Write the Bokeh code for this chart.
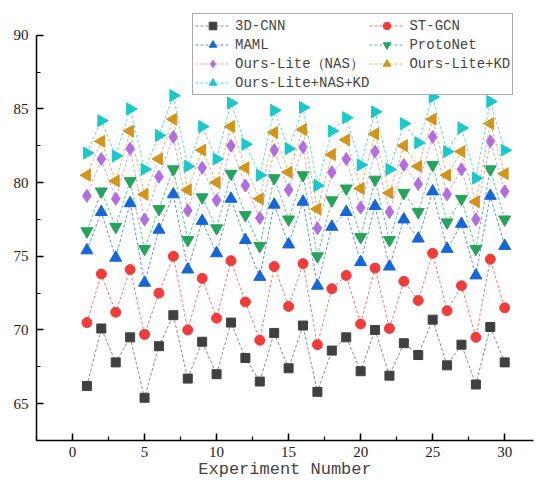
import math
from bokeh.plotting import figure
from bokeh.models import Range1d, SingleIntervalTicker, Legend, LegendItem
from bokeh.embed import file_html
from bokeh.resources import INLINE

experiments = list(range(1, 31))

cnn3d = [66.2, 70.1, 67.8, 69.5, 65.4, 68.9, 71.0, 66.7, 69.2, 67.0, 70.5, 68.1, 66.5, 69.8, 67.4,
         70.3, 65.8, 68.6, 69.5, 67.2, 70.0, 66.9, 69.1, 68.3, 70.7, 67.6, 69.0, 66.3, 70.2, 67.8]
stgcn = [70.5, 73.8, 71.2, 74.1, 69.7, 72.5, 75.0, 70.0, 73.5, 70.8, 74.7, 71.9, 69.3, 74.3, 71.6,
         74.5, 69.0, 72.8, 73.7, 70.4, 74.2, 70.1, 73.3, 72.0, 75.2, 71.3, 73.0, 69.5, 74.8, 71.5]
maml = [75.4, 78.0, 74.9, 78.6, 73.2, 76.8, 79.2, 74.1, 77.4, 75.2, 78.9, 76.1, 73.6, 78.5, 75.8,
        78.7, 73.0, 77.0, 78.0, 74.6, 78.4, 74.3, 77.5, 76.2, 79.4, 75.5, 77.2, 73.7, 79.1, 75.7]
protonet = [76.7, 79.4, 77.0, 80.1, 75.5, 78.2, 80.9, 76.1, 79.0, 76.9, 80.6, 77.8, 75.7, 80.3, 77.5,
            80.5, 75.0, 78.8, 79.6, 76.3, 80.2, 76.1, 79.3, 78.0, 81.2, 77.3, 78.9, 75.5, 80.9, 77.5]
lite_nas = [79.1, 81.6, 78.9, 82.3, 77.5, 80.4, 83.1, 78.1, 81.0, 78.8, 82.5, 79.8, 77.6, 82.2, 79.5,
            82.4, 76.9, 80.7, 81.6, 78.3, 82.1, 78.0, 81.2, 79.9, 83.1, 79.2, 80.9, 77.5, 82.8, 79.4]
lite_kd = [80.5, 82.8, 80.1, 83.5, 79.2, 81.6, 84.3, 79.5, 82.2, 80.0, 83.8, 81.0, 78.9, 83.4, 80.7,
           83.6, 78.2, 81.9, 82.9, 79.6, 83.3, 79.3, 82.5, 81.1, 84.3, 80.5, 82.1, 78.7, 84.0, 80.6]
lite_nas_kd = [82.0, 84.2, 81.8, 85.0, 80.9, 83.2, 85.9, 81.1, 83.8, 81.6, 85.4, 82.6, 80.5, 84.9, 82.3,
               85.1, 79.8, 83.5, 84.4, 81.2, 84.8, 80.9, 84.0, 82.7, 85.8, 82.1, 83.7, 80.3, 85.5, 82.2]

series_names = ["3D-CNN", "ST-GCN", "MAML", "ProtoNet", "Ours-Lite（NAS）", "Ours-Lite+KD", "Ours-Lite+NAS+KD"]
series_values = [cnn3d, stgcn, maml, protonet, lite_nas, lite_kd, lite_nas_kd]
# legend is filled column by column: this order gives the reference's row-wise reading
legend_order = [0, 2, 4, 6, 1, 3, 5]

styles = [
    dict(marker="square", mc="#404040", lc="#8a8a8a", size=9, angle=0.0),
    dict(marker="circle", mc="#f23c3c", lc="#f47a7a", size=10, angle=0.0),
    dict(marker="triangle", mc="#1766d6", lc="#5e93dc", size=12, angle=0.0),
    dict(marker="inverted_triangle", mc="#27a35d", lc="#62c08b", size=12, angle=0.0),
    dict(marker="diamond", mc="#b26edf", lc="#cfa3ea", size=13, angle=0.0),
    dict(marker="triangle", mc="#d2951c", lc="#e3b56a", size=12, angle=math.pi / 2),
    dict(marker="triangle", mc="#19c8c8", lc="#5fdcdc", size=12, angle=-math.pi / 2),
]

p = figure(width=534, height=484, output_backend="svg", toolbar_location=None,
           x_range=Range1d(-2.5, 32.0), y_range=Range1d(62.5, 92.15),
           min_border_left=36, min_border_right=1, min_border_top=3, min_border_bottom=44)
p.outline_line_color = None
p.xgrid.visible = False
p.ygrid.visible = False

items = []
for name, vals, st in zip(series_names, series_values, styles):
    ln = p.line(experiments, vals, line_color=st["lc"], line_width=1, line_dash="3 2")
    sc = p.scatter(experiments, vals, marker=st["marker"], size=st["size"], angle=st["angle"],
                   fill_color=st["mc"], line_color=st["mc"])
    items.append(LegendItem(label=name, renderers=[ln, sc]))

legend = Legend(items=[items[k] for k in legend_order], ncols=2, location=(156, 345),
                label_text_font="Liberation Mono", label_text_font_size="14px",
                glyph_width=35, glyph_height=19, label_height=19, label_standoff=5,
                spacing=0, padding=2, margin=0,
                border_line_color="#555555", border_line_width=1,
                background_fill_color="white", background_fill_alpha=1.0)
p.add_layout(legend, "center")

for ax in (p.xaxis[0], p.yaxis[0]):
    ax.axis_line_color = "black"
    ax.axis_line_width = 1.5
    ax.major_tick_in = 7
    ax.major_tick_out = 0
    ax.minor_tick_in = 4
    ax.minor_tick_out = 0
    ax.major_tick_line_width = 1.5
    ax.minor_tick_line_width = 1.2
    ax.major_label_text_font = "'Liberation Serif', serif"
    ax.major_label_text_font_size = "15px"
    ax.major_label_text_color = "#222222"

p.yaxis[0].bounds = (62.5, 90)
p.xaxis[0].ticker = SingleIntervalTicker(interval=5, num_minor_ticks=2)
p.yaxis[0].ticker = SingleIntervalTicker(interval=5, num_minor_ticks=2)
p.xaxis[0].major_label_standoff = 6
p.yaxis[0].major_label_standoff = 8
p.xaxis[0].axis_label = "Experiment Number"
p.xaxis[0].axis_label_text_font = "Liberation Mono"
p.xaxis[0].axis_label_text_font_size = "17px"
p.xaxis[0].axis_label_text_font_style = "normal"
p.xaxis[0].axis_label_standoff = 0

open("out.html", "w").write(file_html(p, INLINE))
